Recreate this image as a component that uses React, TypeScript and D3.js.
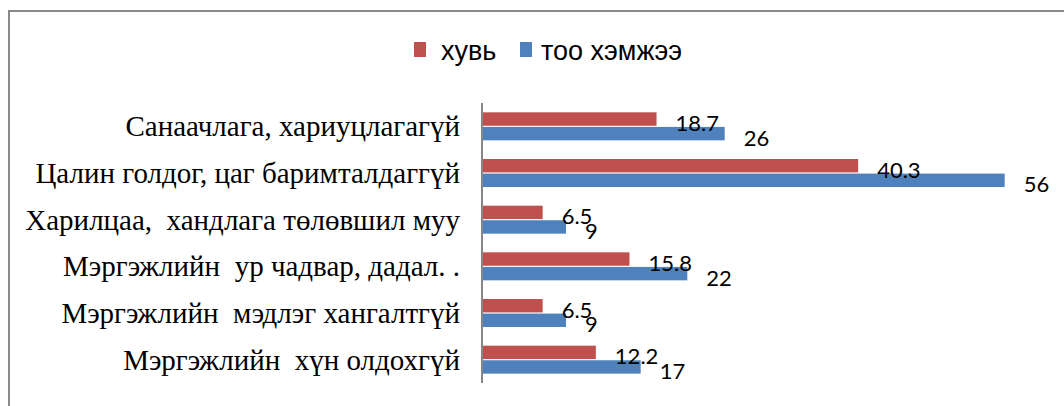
import React, { useEffect, useRef } from 'react';
import * as d3 from 'd3';

const categories = [
  'Санаачлага, хариуцлагагүй',
  'Цалин голдог, цаг баримталдаггүй',
  'Харилцаа,  хандлага төлөвшил муу',
  'Мэргэжлийн  ур чадвар, дадал. .',
  'Мэргэжлийн  мэдлэг хангалтгүй',
  'Мэргэжлийн  хүн олдохгүй',
];
const seriesNames = ['хувь', 'тоо хэмжээ'];
const percentValues = [18.7, 40.3, 6.5, 15.8, 6.5, 12.2];
const countValues = [26, 56, 9, 22, 9, 17];
const colors = ['#C0504D', '#4F81BD'];

const App = () => {
  const ref = useRef<SVGSVGElement>(null);

  useEffect(() => {
    const svg = d3.select(ref.current);
    svg.selectAll('*').remove();

    const width = 1064;
    const height = 406;
    const axisX = 482;

    // frame (only top and left edges are visible in the crop)
    svg.append('path')
      .attr('d', `M9,${height} V11 H${width}`)
      .attr('fill', 'none')
      .attr('stroke', '#8a8a8a')
      .attr('stroke-width', 2);

    const y = d3.scaleBand<string>()
      .domain(categories)
      .range([103, 383])
      .paddingInner(0.4)
      .paddingOuter(0.2);

    const inner = d3.scaleBand<string>()
      .domain(seriesNames)
      .range([0, y.bandwidth()])
      .paddingInner(0.08);

    const x = d3.scaleLinear().domain([0, 60]).range([axisX, axisX + 560]);

    const series = [percentValues, countValues];
    const rows = categories.flatMap((c, i) =>
      series.map((vals, s) => ({ cat: c, s, name: seriesNames[s], v: vals[i] }))
    );

    const g = svg.append('g');
    g.selectAll('rect')
      .data(rows)
      .enter()
      .append('rect')
      .attr('x', x(0) + 1)
      .attr('y', d => (y(d.cat) as number) + (inner(d.name) as number))
      .attr('width', d => x(d.v) - x(0) - 1)
      .attr('height', inner.bandwidth())
      .attr('fill', d => colors[d.s]);

    g.selectAll('text.val')
      .data(rows)
      .enter()
      .append('text')
      .attr('class', 'val')
      .attr('x', d => x(d.v) + 19)
      .attr('y', d => (y(d.cat) as number) + (inner(d.name) as number) + inner.bandwidth() / 2 + 12)
      .attr('font-family', 'Lato, "Open Sans", sans-serif')
      .attr('font-size', 22)
      .attr('fill', '#000')
      .text(d => String(d.v));

    // category axis
    svg.append('line')
      .attr('x1', axisX).attr('x2', axisX)
      .attr('y1', 103).attr('y2', 383)
      .attr('stroke', '#868686')
      .attr('stroke-width', 2);

    svg.append('g')
      .selectAll('text')
      .data(categories)
      .enter()
      .append('text')
      .attr('x', 460)
      .attr('y', d => (y(d) as number) + y.bandwidth() / 2 + 10)
      .attr('text-anchor', 'end')
      .attr('font-family', '"Liberation Serif", "Times New Roman", serif')
      .attr('font-size', 29)
      .style('white-space', 'pre')
      .attr('fill', '#000')
      .text(d => d);

    // legend
    const legendX = [414, 520];
    const legendTextX = [441, 541];
    const leg = svg.append('g');
    seriesNames.forEach((name, i) => {
      leg.append('rect')
        .attr('x', legendX[i]).attr('y', 42)
        .attr('width', 12).attr('height', 15)
        .attr('fill', colors[i]);
      leg.append('text')
        .attr('x', legendTextX[i]).attr('y', 60)
        .attr('font-family', '"Liberation Sans", Arial, sans-serif')
        .attr('font-size', 27)
        .attr('fill', '#000')
        .text(name);
    });
  }, []);

  return (
    <svg
      ref={ref}
      width={1064}
      height={406}
      style={{ position: 'absolute', left: 0, top: 0, background: '#fff' }}
    />
  );
};

export default App;
